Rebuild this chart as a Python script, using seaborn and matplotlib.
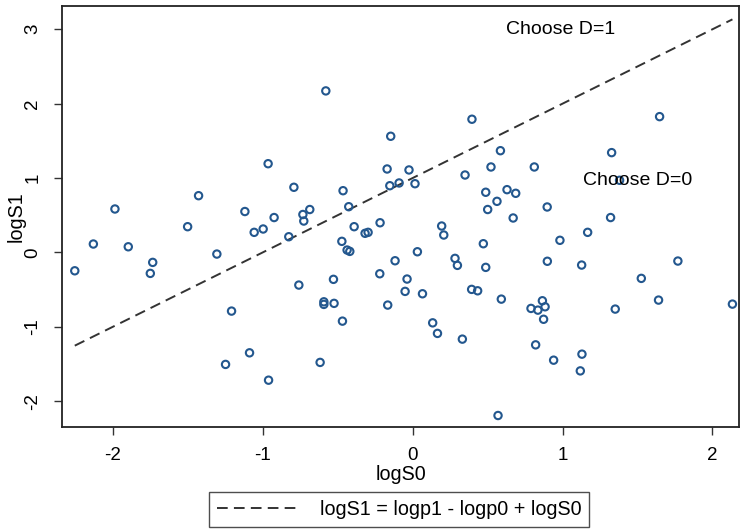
import numpy as np
import pandas as pd
import seaborn as sns
import matplotlib.pyplot as plt

# scatter data
logS0 = [-2.255, -2.131, -1.987, -1.898, -1.751, -1.735, -1.502, -1.429, -1.307, -1.209,
         -1.249, -1.120, -1.089, -1.058, -0.998, -0.965, -0.962, -0.925, -0.827, -0.793,
         -0.760, -0.733, -0.727, -0.687, -0.618, -0.593, -0.593, -0.580, -0.525, -0.529,
         -0.473, -0.465, -0.469, -0.427, -0.438, -0.420, -0.391, -0.318, -0.298, -0.220,
         -0.218, -0.171, -0.147, -0.153, -0.167, -0.118, -0.091, -0.051, -0.038, -0.025,
         0.015, 0.031, 0.065, 0.133, 0.165, 0.193, 0.207, 0.282, 0.298, 0.331,
         0.349, 0.395, 0.393, 0.433, 0.471, 0.487, 0.487, 0.500, 0.522, 0.562,
         0.569, 0.585, 0.591, 0.629, 0.670, 0.687, 0.789, 0.811, 0.835, 0.865,
         0.883, 0.820, 0.873, 0.897, 0.898, 0.940, 0.982, 1.127, 1.129, 1.118,
         1.167, 1.327, 1.320, 1.351, 1.380, 1.525, 1.647, 1.640, 1.769, 2.133]
logS1 = [-0.248, 0.112, 0.583, 0.075, -0.283, -0.135, 0.345, 0.762, -0.023, -0.790,
         -1.507, 0.549, -1.351, 0.269, 0.314, 1.192, -1.719, 0.468, 0.210, 0.875,
         -0.440, 0.509, 0.421, 0.576, -1.480, -0.665, -0.700, 2.171, -0.686, -0.363,
         0.148, 0.829, -0.925, 0.614, 0.031, 0.013, 0.345, 0.256, 0.269, -0.288,
         0.398, 1.121, 1.561, 0.896, -0.709, -0.113, 0.933, -0.525, -0.359, 1.108,
         0.923, 0.008, -0.557, -0.948, -1.090, 0.354, 0.233, -0.081, -0.175, -1.167,
         1.040, 1.790, -0.498, -0.517, 0.116, -0.202, 0.808, 0.576, 1.148, 0.686,
         -2.194, 1.367, -0.629, 0.843, 0.462, 0.794, -0.754, 1.148, -0.777, -0.651,
         -0.732, -1.244, -0.900, 0.610, -0.120, -1.450, 0.162, -0.171, -1.369, -1.594,
         0.269, 1.341, 0.468, -0.763, 0.969, -0.350, 1.825, -0.642, -0.117, -0.696]

# boundary: logS1 = logp1 - logp0 + logS0
logp_diff = 1.0

df = pd.DataFrame({'logS0': logS0, 'logS1': logS1})
line_x = np.array([min(logS0), max(logS0)])
line_df = pd.DataFrame({'logS0': line_x, 'logS1': logp_diff + line_x})

sns.set_theme(style='ticks')
plt.rcParams['font.family'] = ['Liberation Sans', 'DejaVu Sans']
plt.rcParams['text.color'] = 'black'
plt.rcParams['axes.labelcolor'] = 'black'
plt.rcParams['xtick.color'] = '#333333'
plt.rcParams['ytick.color'] = '#333333'
plt.rcParams['xtick.labelcolor'] = 'black'
plt.rcParams['ytick.labelcolor'] = 'black'

fig = plt.figure(figsize=(7.42, 5.30), dpi=100)
ax = fig.add_axes([0.0836, 0.194, 0.913, 0.795])

marker_col = '#23578e'
sns.scatterplot(data=df, x='logS0', y='logS1', ax=ax, marker='o', s=28,
                fc='none', ec=marker_col, linewidth=1.5, zorder=3)
sns.lineplot(data=line_df, x='logS0', y='logS1', ax=ax, color='#333333',
             linewidth=1.4, label='logS1 = logp1 - logp0 + logS0', legend=False)
ax.lines[0].set_dashes((5.5, 3.2))

ax.set_xlim(-2.34, 2.18)
ax.set_ylim(-2.351, 3.315)
ax.set_xticks([-2, -1, 0, 1, 2])
ax.set_yticks([-2, -1, 0, 1, 2, 3])
ax.set_xticklabels(['-2', '-1', '0', '1', '2'])
ax.set_yticklabels(['-2', '-1', '0', '1', '2', '3'], rotation=90, va='center')
ax.tick_params(axis='both', labelsize=13.5, length=6, width=1, direction='out')
ax.tick_params(axis='x', pad=8)
ax.tick_params(axis='y', pad=9)
for sp in ax.spines.values():
    sp.set_color('#222222')
    sp.set_linewidth(1.3)

ax.set_xlabel('logS0', fontsize=14.2, labelpad=1)
ax.set_ylabel('logS1', fontsize=14.2, labelpad=-1)

ax.text(0.99, 3.0, 'Choose D=1', fontsize=14, ha='center', va='center')
ax.text(1.50, 0.97, 'Choose D=0', fontsize=14, ha='center', va='center')

handles, labels = ax.get_legend_handles_labels()
leg = fig.legend(handles, labels, loc='center', bbox_to_anchor=(0.538, 0.039),
                 fontsize=14.2, frameon=True, fancybox=False, edgecolor='#222222',
                 handlelength=4.2, handletextpad=1.0, borderpad=0.4)
leg.get_frame().set_linewidth(1.0)

fig.savefig('out.png', dpi=100, facecolor='white')
